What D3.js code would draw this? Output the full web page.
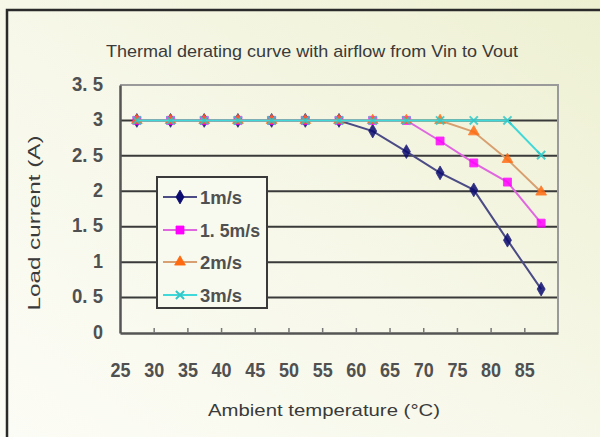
<!DOCTYPE html>
<html>
<head>
<meta charset="utf-8">
<script src="https://cdn.jsdelivr.net/npm/d3@7"></script>
<style>
  html, body { margin: 0; padding: 0; background: #f6f7e6; }
  svg { display: block; }
</style>
</head>
<body>
<script>
// ---- data ----
const categories = ["25","30","35","40","45","50","55","60","65","70","75","80","85"];
const s1 = [3,3,3,3,3,3,3,2.85,2.56,2.26,2.02,1.31,0.62];
const s15 = [3,3,3,3,3,3,3,3,3,2.71,2.40,2.13,1.55];
const s2 = [3,3,3,3,3,3,3,3,3,3,2.84,2.45,1.99];
const s3 = [3,3,3,3,3,3,3,3,3,3,3,3,2.51];
const seriesNames = ["1m/s","1. 5m/s","2m/s","3m/s"];
const yTickValues = [0,0.5,1,1.5,2,2.5,3,3.5];
const yTickLabels = ["0","0. 5","1","1. 5","2","2. 5","3","3. 5"];
const titleText = "Thermal derating curve with airflow from Vin to Vout";
const yTitle = "Load current (A)";
const xTitle = "Ambient temperature (°C)";

const W = 600, H = 437;
const svg = d3.select("body").append("svg").attr("width", W).attr("height", H);

const defs = svg.append("defs");
const grad = defs.append("linearGradient").attr("id","bg")
  .attr("x1","100%").attr("y1","0%").attr("x2","0%").attr("y2","100%");
grad.append("stop").attr("offset","0%").attr("stop-color","#eef0d2");
grad.append("stop").attr("offset","55%").attr("stop-color","#f7f8ea");
grad.append("stop").attr("offset","100%").attr("stop-color","#fcfcf6");
svg.append("rect").attr("width",W).attr("height",H).attr("fill","url(#bg)");

// outer frame (top and left edges)
svg.append("path").attr("d","M7,437 L7,10 L600,10").attr("fill","none")
  .attr("stroke","#2a2a2a").attr("stroke-width",2.5);

const L = 120, R = 558, T = 85, B = 333;
const xi = d3.scaleLinear().domain([0, categories.length]).range([L, R]);
const xc = (i) => xi(i + 0.5);
const y = d3.scaleLinear().domain([0, 3.5]).range([B, T]);

// gridlines
svg.append("g").selectAll("line").data([0.5,1,1.5,2,2.5,3]).join("line")
  .attr("x1", L).attr("x2", R).attr("y1", d => y(d)).attr("y2", d => y(d))
  .attr("stroke","#3a3a3a").attr("stroke-width",2);

// plot border top/right
svg.append("path").attr("d",`M${L},${T} L${R},${T} L${R},${B}`).attr("fill","none")
  .attr("stroke","#9a9a9a").attr("stroke-width",2);

// y axis
const yAxis = svg.append("g").attr("transform",`translate(${L},0)`)
  .call(d3.axisLeft(y).tickValues(yTickValues).tickSize(0).tickPadding(17)
    .tickFormat((d,i) => yTickLabels[i]));
yAxis.select(".domain").attr("stroke","#555").attr("stroke-width",2.5);
yAxis.selectAll("text")
  .attr("font-family","'Liberation Sans', Arial, sans-serif")
  .attr("font-weight","bold").attr("font-size",21).attr("fill","#505050")
  .attr("dy","0.25em")
  .attr("textLength", d => yTickLabels[yTickValues.indexOf(d)].length > 1 ? 31 : 10)
  .attr("lengthAdjust","spacingAndGlyphs");

// x axis
const xAxis = svg.append("g").attr("transform",`translate(0,${B})`)
  .call(d3.axisBottom(xi).tickValues(d3.range(categories.length))
    .tickSizeInner(-5).tickSizeOuter(0).tickPadding(29)
    .tickFormat(i => categories[i]));
xAxis.select(".domain").attr("stroke","#555").attr("stroke-width",2.5);
xAxis.selectAll(".tick line").attr("stroke","#777").attr("stroke-width",1.5)
  .attr("display", (d) => d === 0 ? "none" : null);
xAxis.selectAll("text")
  .attr("font-family","'Liberation Sans', Arial, sans-serif")
  .attr("font-weight","bold").attr("font-size",21).attr("fill","#505050")
  .attr("textLength",20).attr("lengthAdjust","spacingAndGlyphs");

// series
const series = [
  {name: seriesNames[0], values: s1, line: "#4b4b85", mark: "#0a0a70", sym: "diamond"},
  {name: seriesNames[1], values: s15, line: "#e066e0", mark: "#ff00ff", sym: "square"},
  {name: seriesNames[2], values: s2, line: "#d8a070", mark: "#ff6a10", sym: "triangle"},
  {name: seriesNames[3], values: s3, line: "#40d8d8", mark: "#30c8c8", sym: "cross"}
];
const symbolFor = (s) => {
  if (s === "diamond") return d3.symbol().type(d3.symbolDiamond).size(55)();
  if (s === "square") return d3.symbol().type(d3.symbolSquare).size(64)();
  if (s === "triangle") return d3.symbol().type(d3.symbolTriangle).size(50)();
  return d3.symbol().type(d3.symbolX).size(45)();
};
const line = d3.line().x((d,i) => xc(i)).y(d => y(d));
series.forEach(s => {
  const g = svg.append("g");
  g.append("path").datum(s.values).attr("d", line).attr("fill","none")
    .attr("stroke", s.line).attr("stroke-width", 2);
  g.selectAll("path.m").data(s.values).join("path").attr("class","m")
    .attr("transform",(d,i) => `translate(${xc(i)},${y(d)})`)
    .attr("d", symbolFor(s.sym))
    .attr("fill", s.sym === "cross" ? "none" : s.mark)
    .attr("stroke", s.mark).attr("stroke-width", s.sym === "cross" ? 2 : 0.8)
    .attr("opacity", 0.85);
});

// legend
const lg = svg.append("g");
lg.append("rect").attr("x",157).attr("y",177).attr("width",110).attr("height",131)
  .attr("fill","#f9faef").attr("stroke","#3a3a3a").attr("stroke-width",2);
const legY = [197, 230, 262, 295];
const legW = [42, 60, 42, 42];
series.forEach((s, k) => {
  lg.append("line").attr("x1",163).attr("x2",197).attr("y1",legY[k]).attr("y2",legY[k])
    .attr("stroke", s.line).attr("stroke-width",2);
  lg.append("path").attr("transform",`translate(180,${legY[k]})`).attr("d", symbolFor(s.sym))
    .attr("fill", s.sym === "cross" ? "none" : s.mark).attr("stroke", s.mark)
    .attr("stroke-width", s.sym === "cross" ? 2 : 0.8);
  lg.append("text").attr("x",200).attr("y",legY[k] + 7).text(s.name)
    .attr("font-family","'Liberation Sans', Arial, sans-serif")
    .attr("font-weight","bold").attr("font-size",19).attr("fill","#505050")
    .attr("textLength", legW[k]).attr("lengthAdjust","spacingAndGlyphs");
});

// titles
svg.append("text").attr("x",312).attr("y",57).attr("text-anchor","middle").text(titleText)
  .attr("font-family","'Liberation Sans', Arial, sans-serif").attr("font-size",17)
  .attr("fill","#3a3a3a").attr("textLength",412).attr("lengthAdjust","spacingAndGlyphs");
svg.append("text").attr("transform","translate(40,223) rotate(-90)").attr("text-anchor","middle")
  .text(yTitle).attr("font-family","'Liberation Sans', Arial, sans-serif").attr("font-size",17)
  .attr("fill","#3a3a3a").attr("textLength",175).attr("lengthAdjust","spacingAndGlyphs");
svg.append("text").attr("x",324).attr("y",416).attr("text-anchor","middle").text(xTitle)
  .attr("font-family","'Liberation Sans', Arial, sans-serif").attr("font-size",17)
  .attr("fill","#3a3a3a").attr("textLength",232).attr("lengthAdjust","spacingAndGlyphs");
</script>
</body>
</html>
